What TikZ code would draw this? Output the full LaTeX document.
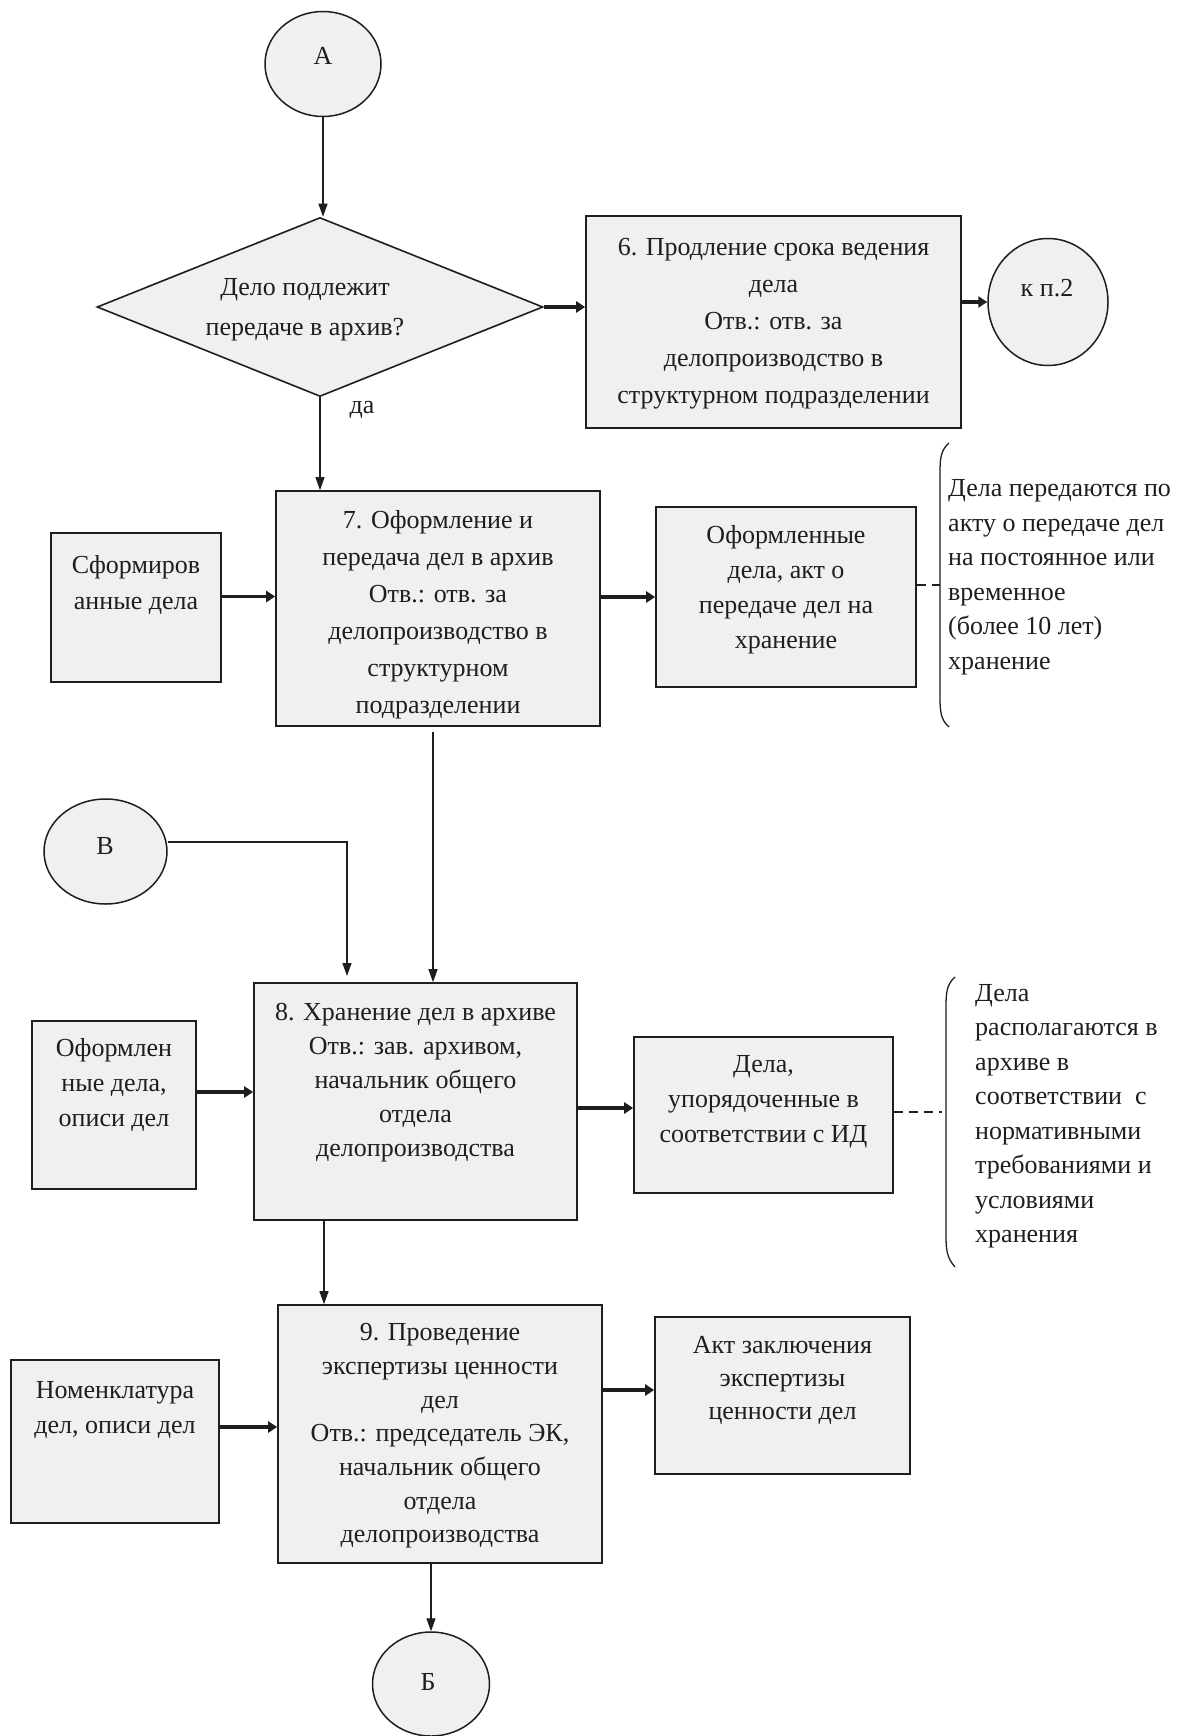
\documentclass[tikz,border=0pt]{standalone}
\usepackage{fontspec}
\setmainfont{Liberation Serif}
\usetikzlibrary{shapes.geometric,arrows.meta}
\definecolor{boxfill}{HTML}{F0F0F0}
\definecolor{ink}{HTML}{1E1E1E}
\begin{document}
\begin{tikzpicture}[x=1pt,y=-1pt,
  box/.style={draw=ink, line width=1.6pt, fill=boxfill, rectangle, inner sep=0pt},
  oval/.style={draw=ink, line width=1.5pt, fill=boxfill, ellipse, inner sep=0pt},
  dia/.style={draw=ink, line width=1.6pt, fill=boxfill, diamond, inner sep=0pt},
  txt/.style={font=\fontsize{26}{#1}\selectfont, align=center, inner sep=0pt, text=ink},
  txt/.default=35,
  note/.style={font=\fontsize{26}{34.5}\selectfont, align=left, inner sep=0pt, text=ink, anchor=west},
  thinarr/.style={draw=ink, line width=1.3pt, -{Triangle[length=13pt,width=9pt]}},
  thickarr/.style={draw=ink, line width=3.7pt, -{Triangle[length=9pt,width=11pt]}},
  dashline/.style={draw=ink, line width=1.3pt, dash pattern=on 9pt off 6pt},
  bracket/.style={draw=ink, line width=1.3pt}
]
\useasboundingbox[fill=white] (0,0) rectangle (1194,1736);

% connector ovals
\node[oval, minimum width=116pt, minimum height=105pt] (cA) at (323,64) {};
\node[txt] (tA) at (323,56) {А};
\node[oval, minimum width=120pt, minimum height=127pt] (ckp) at (1048,302) {};
\node[txt] (tkp) at (1047,288) {к п.2};
\node[oval, minimum width=123pt, minimum height=105pt] (cB) at (105.5,851.5) {};
\node[txt] (tB) at (105,846) {В};
\node[oval, minimum width=117pt, minimum height=104pt] (cBe) at (431,1684) {};
\node[txt] (tBe) at (428,1682) {Б};

% decision
\node[dia, minimum width=446pt, minimum height=179pt] (dec) at (320,307) {};
\node[txt=40] (tdec) at (305,310) {Дело подлежит\\передаче в архив?};

% boxes
\node[box, minimum width=375pt, minimum height=212pt] (b6) at (773.5,322) {};
\node[txt=37] (t6) at (773.5,324) {6. Продление срока ведения\\дела\\Отв.: отв. за\\делопроизводство в\\структурном подразделении};

\node[box, minimum width=324pt, minimum height=235pt] (b7) at (438,608.5) {};
\node[txt=37] (t7) at (438,614.5) {7. Оформление и\\передача дел в архив\\Отв.: отв. за\\делопроизводство в\\структурном\\подразделении};

\node[box, minimum width=170pt, minimum height=149pt] (bsf) at (136,607.5) {};
\node[txt=36] (tsf) at (136,585) {Сформиров\\анные дела};

\node[box, minimum width=260pt, minimum height=180pt] (bof) at (786,597) {};
\node[txt=35] (tof) at (786,590) {Оформленные\\дела, акт о\\передаче дел на\\хранение};

\node[box, minimum width=323pt, minimum height=237pt] (b8) at (415.5,1101.5) {};
\node[txt=34] (t8) at (415.5,1082.5) {8. Хранение дел в архиве\\Отв.: зав. архивом,\\начальник общего\\отдела\\делопроизводства};

\node[box, minimum width=164pt, minimum height=168pt] (bop) at (114,1105) {};
\node[txt=35] (top) at (114,1085) {Оформлен\\ные дела,\\описи дел};

\node[box, minimum width=259pt, minimum height=156pt] (bup) at (763.5,1115) {};
\node[txt=35] (tup) at (763.5,1102) {Дела,\\упорядоченные в\\соответствии с ИД};

\node[box, minimum width=324pt, minimum height=258pt] (b9) at (440,1434) {};
\node[txt=33.7] (t9) at (440,1436) {9. Проведение\\экспертизы ценности\\дел\\Отв.: председатель ЭК,\\начальник общего\\отдела\\делопроизводства};

\node[box, minimum width=208pt, minimum height=163pt] (bnom) at (115,1441.5) {};
\node[txt=35] (tnom) at (115,1409.5) {Номенклатура\\дел, описи дел};

\node[box, minimum width=255pt, minimum height=157pt] (bakt) at (782.5,1395.5) {};
\node[txt=33] (takt) at (782.5,1380) {Акт заключения\\экспертизы\\ценности дел};

% notes
\node[note] (n1) at (948,577) {Дела передаются по\\акту о передаче дел\\на постоянное или\\временное\\(более 10 лет)\\хранение};
\node[note] (n2) at (975,1116) {Дела\\располагаются в\\архиве в\\соответствии~~с\\нормативными\\требованиями и\\условиями\\хранения};

\draw[bracket] (949,443) .. controls (941,450) and (940,458) .. (940,472) -- (940,698) .. controls (940,712) and (941,720) .. (949,727);
\draw[bracket] (955,977) .. controls (947,984) and (946,992) .. (946,1006) -- (946,1236) .. controls (946,1250) and (947,1258) .. (955,1267);

\coordinate (br1m) at (940,585);
\coordinate (br2m) at (942,1112);
\draw[dashline] ([yshift=12pt]bof.east) -- (br1m);
\draw[dashline] ([yshift=3pt]bup.east) -- (br2m);

% connectors
\draw[thinarr] (cA.south) -- (cA.south |- dec.north);
\draw[thickarr] (dec.east) -- (dec.east -| b6.west);
\draw[thickarr] (ckp.west -| b6.east) -- (ckp.west);
\draw[thinarr] (dec.south) -- (dec.south |- b7.north);
\node[txt] (yes) at (362,410) {да};
\draw[thickarr] ([yshift=11pt]bsf.east) -- ([yshift=11pt]bsf.east -| b7.west);
\draw[thickarr] (bof.west -| b7.east) -- (bof.west);
\draw[thinarr] ([xshift=-5pt,yshift=-5pt]b7.south) -- ([xshift=-5pt]b7.south |- b8.north);
\coordinate (bin) at (347,976);
\draw[thinarr] ([yshift=9.5pt]cB.east) -| (bin);
\draw[thickarr] ([yshift=13pt]bop.east) -- ([yshift=13pt]bop.east -| b8.west);
\draw[thickarr] ([yshift=7pt]bup.west -| b8.east) -- ([yshift=7pt]bup.west);
\draw[thinarr] ([xshift=-91.5pt]b8.south) -- ([xshift=-91.5pt]b8.south |- b9.north);
\draw[thickarr] ([yshift=14.5pt]bnom.east) -- ([yshift=14.5pt]bnom.east -| b9.west);
\draw[thickarr] ([yshift=5.5pt]bakt.west -| b9.east) -- ([yshift=5.5pt]bakt.west);
\draw[thinarr] (b9.south -| cBe.north) -- (cBe.north);
\end{tikzpicture}
\end{document}
